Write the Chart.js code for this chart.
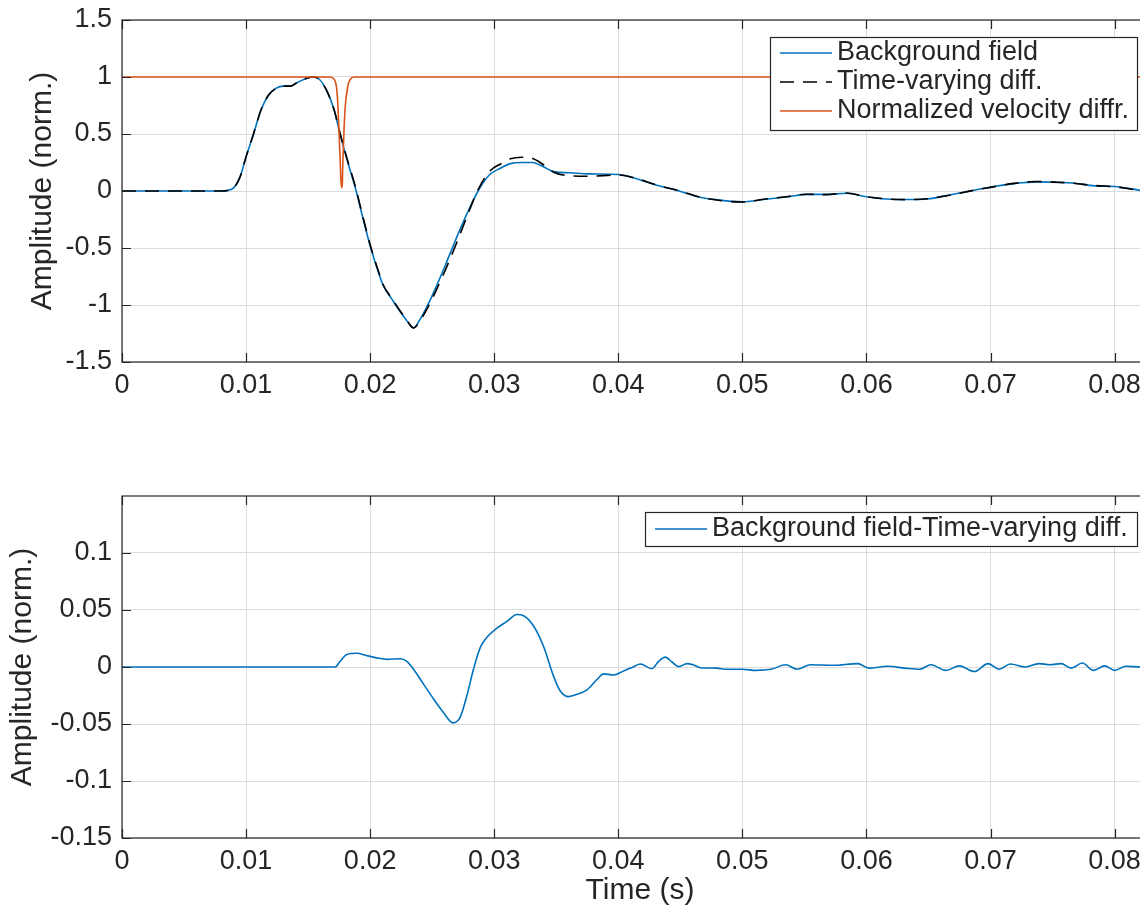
<!DOCTYPE html>
<html>
<head>
<meta charset="utf-8">
<title>Background field vs time-varying difference</title>
<script src="https://cdn.jsdelivr.net/npm/chart.js"></script>
<style>
html, body { margin: 0; padding: 0; background: #fff; overflow: hidden; width: 1140px; height: 911px; position: relative; }
canvas { position: absolute; left: 0; }
#top { top: 0; }
#bottom { top: 440px; }
</style>
</head>
<body>
<canvas id="top" width="1180" height="440"></canvas>
<canvas id="bottom" width="1180" height="471"></canvas>
<script>
// ---- data -------------------------------------------------------------
// time axis (s) for the two top traces
const tTop = [0, 0.008, 0.0089, 0.0095, 0.01, 0.0106, 0.0112, 0.0118, 0.0124, 0.013,
  0.0136, 0.0141, 0.0147, 0.0153, 0.0159, 0.0165, 0.0171, 0.0176, 0.0182, 0.0188,
  0.0194, 0.02, 0.0206, 0.0211, 0.0217, 0.0223, 0.0229, 0.0235, 0.024, 0.0246,
  0.0252, 0.0261, 0.027, 0.0278, 0.0287, 0.0296, 0.0305, 0.0313, 0.0322, 0.0331,
  0.034, 0.0348, 0.0361, 0.0376, 0.04, 0.0414, 0.0431, 0.0449, 0.0464, 0.0478,
  0.05, 0.0517, 0.0537, 0.0552, 0.0567, 0.0584, 0.06, 0.0616, 0.0631, 0.0649,
  0.0669, 0.0684, 0.07, 0.0719, 0.0737, 0.0754, 0.0766, 0.0784, 0.08, 0.0821, 0.0835];

const backgroundField = [0, 0, 0.02, 0.12, 0.30, 0.50, 0.71, 0.84, 0.90, 0.92,
  0.92, 0.95, 0.98, 1.0, 0.98, 0.88, 0.71, 0.49, 0.25, 0.03,
  -0.23, -0.48, -0.69, -0.84, -0.94, -1.04, -1.13, -1.20, -1.13, -1.01,
  -0.87, -0.64, -0.40, -0.20, 0.0, 0.14, 0.20, 0.24, 0.25, 0.25,
  0.21, 0.17, 0.16, 0.15, 0.145, 0.11, 0.05, 0.0, -0.05, -0.075,
  -0.095, -0.075, -0.05, -0.03, -0.03, -0.02, -0.05, -0.07, -0.075, -0.07,
  -0.03, 0.0, 0.035, 0.065, 0.08, 0.075, 0.07, 0.045, 0.04, 0.005, -0.01];

const timeVarying = [0, 0, 0.02, 0.12, 0.30, 0.50, 0.71, 0.84, 0.90, 0.92,
  0.92, 0.95, 0.98, 1.0, 0.98, 0.88, 0.71, 0.495, 0.261, 0.042,
  -0.219, -0.471, -0.682, -0.833, -0.933, -1.033, -1.125, -1.202, -1.142, -1.032,
  -0.90, -0.683, -0.447, -0.225, 0.012, 0.17, 0.237, 0.282, 0.296, 0.286,
  0.228, 0.165, 0.134, 0.13, 0.14, 0.112, 0.052, 0.003, -0.049, -0.077,
  -0.097, -0.073, -0.048, -0.028, -0.032, -0.017, -0.051, -0.069, -0.076, -0.068,
  -0.033, 0.001, 0.032, 0.067, 0.083, 0.077, 0.069, 0.048, 0.037, 0.005, -0.01];

// normalized velocity difference: flat at 1 with one narrow notch
const tVel = [0, 0.0168, 0.0171, 0.0173, 0.0174, 0.0175, 0.0176, 0.01768, 0.01775,
  0.0178, 0.0179, 0.018, 0.0182, 0.0184, 0.0187, 0.0835];
const velocityDiff = [1, 1, 0.98, 0.9, 0.75, 0.5, 0.22, 0.03, 0.05,
  0.25, 0.55, 0.75, 0.92, 0.98, 1, 1];

// difference trace for the lower panel
const tDiff = [0, 0.01718, 0.01758, 0.01812, 0.01892, 0.01973, 0.02054, 0.02134, 0.02242, 0.02296,
  0.0235, 0.0243, 0.02511, 0.02591, 0.02667, 0.02726, 0.0278, 0.02833, 0.02887, 0.02941,
  0.03022, 0.03102, 0.03183, 0.03237, 0.03317, 0.03398, 0.03478, 0.03532, 0.036, 0.03667,
  0.03747, 0.03828, 0.03882, 0.03962, 0.04043, 0.04124, 0.04177, 0.04271, 0.04325, 0.04379,
  0.04433, 0.04487, 0.04554, 0.04608, 0.04661, 0.0479, 0.0488, 0.05, 0.0511, 0.0523,
  0.0535, 0.0544, 0.0555, 0.0573, 0.0593, 0.0602, 0.0617, 0.0631, 0.0643, 0.0652,
  0.0664, 0.0675, 0.0687, 0.0698, 0.0707, 0.0716, 0.0728, 0.0739, 0.0748, 0.0757,
  0.0765, 0.0774, 0.0783, 0.0792, 0.08, 0.0809, 0.0821, 0.0835];
const fieldDiff = [0, 0, 0.005, 0.011, 0.012, 0.010, 0.008, 0.0067, 0.0073, 0.005,
  -0.002, -0.015, -0.028, -0.040, -0.049, -0.044, -0.025, -0.002, 0.017, 0.026,
  0.034, 0.040, 0.046, 0.045, 0.036, 0.018, -0.008, -0.021, -0.026, -0.024,
  -0.020, -0.011, -0.006, -0.007, -0.0035, 0.0003, 0.0026, -0.0015, 0.005, 0.0087,
  0.0044, 0.0003, 0.003, 0.0017, -0.0006, -0.001, -0.002, -0.002, -0.003, -0.002,
  0.002, -0.002, 0.002, 0.0015, 0.003, -0.001, 0.0006, -0.001, -0.002, 0.002,
  -0.003, 0.001, -0.004, 0.003, -0.002, 0.0026, 0, 0.003, 0.002, 0.003,
  -0.001, 0.0035, -0.003, 0.001, -0.003, 0.0006, 0, 0];

// tick positions / labels
const xTicks = [0, 0.01, 0.02, 0.03, 0.04, 0.05, 0.06, 0.07, 0.08];
const xTickLabels = ['0', '0.01', '0.02', '0.03', '0.04', '0.05', '0.06', '0.07', '0.08'];
const yTicksTop = [-1.5, -1, -0.5, 0, 0.5, 1, 1.5];
const yTickLabelsTop = ['-1.5', '-1', '-0.5', '0', '0.5', '1', '1.5'];
const yTicksBottom = [-0.15, -0.1, -0.05, 0, 0.05, 0.1];
const yTickLabelsBottom = ['-0.15', '-0.1', '-0.05', '0', '0.05', '0.1'];

// ---- styling ----------------------------------------------------------
const FONT = '"Liberation Sans", Arial, Helvetica, sans-serif';
const INK = '#262626';
const GRID = '#dcdcdc';
const BLUE = '#0072BD';
const ORANGE = '#D95319';
const X_MAX = 0.0835;

Chart.defaults.font.family = FONT;
Chart.defaults.color = INK;

const pts = (xs, ys) => xs.map((x, i) => ({ x: x, y: ys[i] }));

// axes box with inward tick marks
const framePlugin = {
  id: 'frame',
  afterDatasetsDraw(chart) {
    const { ctx, chartArea: a, scales: { x, y } } = chart;
    const len = 9;
    ctx.save();
    ctx.strokeStyle = INK;
    ctx.lineWidth = 1.2;
    ctx.setLineDash([]);
    ctx.strokeRect(a.left, a.top, a.right - a.left, a.bottom - a.top);
    ctx.beginPath();
    x.ticks.forEach(t => {
      const px = Math.round(x.getPixelForValue(t.value)) + 0.5;
      ctx.moveTo(px, a.bottom); ctx.lineTo(px, a.bottom - len);
      ctx.moveTo(px, a.top); ctx.lineTo(px, a.top + len);
    });
    y.ticks.forEach(t => {
      const py = Math.round(y.getPixelForValue(t.value)) + 0.5;
      ctx.moveTo(a.left, py); ctx.lineTo(a.left + len, py);
      ctx.moveTo(a.right, py); ctx.lineTo(a.right - len, py);
    });
    ctx.stroke();
    ctx.restore();
  }
};

// boxed legend drawn inside the plot area
const boxLegendPlugin = {
  id: 'boxLegend',
  afterDraw(chart, args, o) {
    const { ctx } = chart;
    const sets = chart.data.datasets;
    ctx.save();
    ctx.fillStyle = '#fff';
    ctx.fillRect(o.left, o.top, o.right - o.left, o.height);
    ctx.strokeStyle = INK;
    ctx.lineWidth = 1.2;
    ctx.strokeRect(o.left + 0.5, o.top + 0.5, o.right - o.left, o.height);
    ctx.font = o.fontSize + 'px ' + FONT;
    ctx.textBaseline = 'middle';
    ctx.textAlign = 'left';
    sets.forEach((ds, i) => {
      const cy = o.top + o.first + i * o.gap;
      ctx.beginPath();
      ctx.strokeStyle = ds.borderColor;
      ctx.lineWidth = ds.borderWidth;
      ctx.setLineDash(ds.borderDash || []);
      ctx.moveTo(o.left + o.sample[0], cy);
      ctx.lineTo(o.left + o.sample[1], cy);
      ctx.stroke();
      ctx.setLineDash([]);
      ctx.fillStyle = INK;
      ctx.fillText(ds.label, o.left + o.textX, cy);
    });
    ctx.restore();
  }
};

function xScale(height, title) {
  return {
    type: 'linear', min: 0, max: X_MAX,
    afterBuildTicks: s => { s.ticks = xTicks.map(v => ({ value: v })); },
    afterFit: s => { s.height = height; s.paddingLeft = 0; s.paddingRight = 0; },
    ticks: { callback: (v, i) => xTickLabels[i], font: { size: 27 }, padding: 7,
      autoSkip: false, maxRotation: 0, color: INK },
    grid: { color: GRID, drawTicks: false },
    border: { display: false },
    title: title ? { display: true, text: title, font: { size: 30 }, color: INK,
      padding: { top: 0, bottom: 2 } } : { display: false }
  };
}

// titleGap: distance from the canvas edge to the rotated label's line box
function yScale(min, max, ticks, labels, titleGap) {
  return {
    type: 'linear', min: min, max: max,
    afterBuildTicks: s => { s.ticks = ticks.map(v => ({ value: v })); },
    afterFit: s => { s.width = 122; s.paddingTop = 0; s.paddingBottom = 0; },
    ticks: { callback: (v, i) => labels[i], font: { size: 27 }, padding: 10,
      autoSkip: false, color: INK },
    grid: { color: GRID, drawTicks: false },
    border: { display: false },
    title: { display: true, text: 'Amplitude (norm.)', font: { size: 30 }, color: INK,
      padding: { top: titleGap, bottom: 0 } }
  };
}

const lineDefaults = { pointRadius: 0, fill: false, cubicInterpolationMode: 'monotone', borderWidth: 1.6 };

new Chart(document.getElementById('top'), {
  type: 'line',
  data: {
    datasets: [
      Object.assign({ label: 'Background field', data: pts(tTop, backgroundField),
        borderColor: BLUE, order: 3 }, lineDefaults),
      Object.assign({ label: 'Time-varying diff.', data: pts(tTop, timeVarying),
        borderColor: '#000', borderDash: [14, 9], order: 2 }, lineDefaults),
      Object.assign({ label: 'Normalized velocity diffr.', data: pts(tVel, velocityDiff),
        borderColor: ORANGE, order: 1 }, lineDefaults)
    ]
  },
  options: {
    responsive: false, animation: false, devicePixelRatio: 1,
    layout: { padding: { top: 20, right: 22, bottom: 0, left: 0 } },
    scales: { x: xScale(78), y: yScale(-1.5, 1.5, yTicksTop, yTickLabelsTop, 25) },
    plugins: {
      legend: { display: false }, tooltip: { enabled: false },
      boxLegend: { left: 770, top: 37, right: 1137, height: 93, first: 16, gap: 29,
        sample: [10, 62], textX: 67, fontSize: 27 }
    }
  },
  plugins: [framePlugin, boxLegendPlugin]
});

new Chart(document.getElementById('bottom'), {
  type: 'line',
  data: {
    datasets: [
      Object.assign({ label: 'Background field-Time-varying diff.', data: pts(tDiff, fieldDiff),
        borderColor: BLUE }, lineDefaults)
    ]
  },
  options: {
    responsive: false, animation: false, devicePixelRatio: 1,
    layout: { padding: { top: 56, right: 22, bottom: 0, left: 0 } },
    scales: { x: xScale(73, 'Time (s)'), y: yScale(-0.15, 0.15, yTicksBottom, yTickLabelsBottom, 5) },
    plugins: {
      legend: { display: false }, tooltip: { enabled: false },
      boxLegend: { left: 645, top: 72, right: 1137, height: 34, first: 17, gap: 29,
        sample: [10, 62], textX: 67, fontSize: 27 }
    }
  },
  plugins: [framePlugin, boxLegendPlugin]
});
</script>
</body>
</html>
